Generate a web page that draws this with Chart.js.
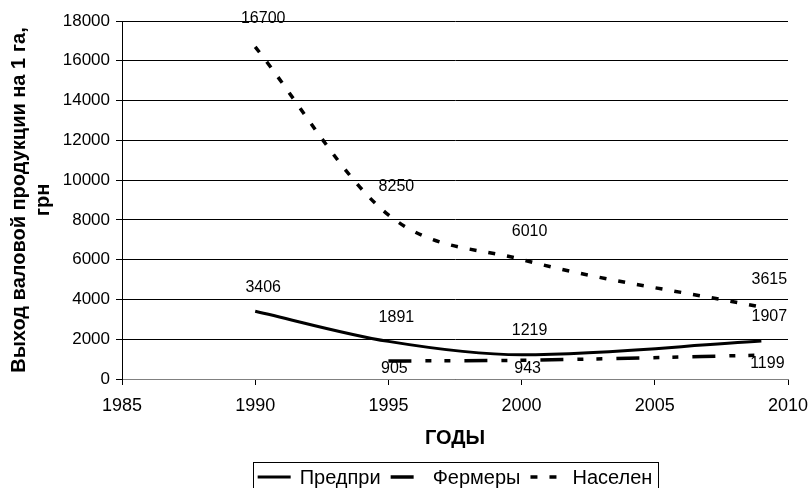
<!DOCTYPE html>
<html>
<head>
<meta charset="utf-8">
<script src="https://cdn.jsdelivr.net/npm/chart.js@4.4.1/dist/chart.umd.min.js"></script>
<style>
  html, body { margin: 0; padding: 0; background: #fff; }
  #wrap { width: 809px; height: 488px; }
</style>
</head>
<body>
<div id="wrap"><canvas id="c" width="809" height="488" style="width:809px;height:488px"></canvas></div>
<script>
// ---- data ----
const seriesNames = ['Предпри', 'Фермеры', 'Населен'];
const predpriYears = [1990, 1995, 2000, 2009];
const predpriValues = [3406, 1891, 1219, 1907];
const fermerYears = [1995, 2000, 2009];
const fermerValues = [905, 943, 1199];
const naselYears = [1990, 1995, 2000, 2009];
const naselValues = [16700, 8250, 6010, 3615];
const xTickValues = [1985, 1990, 1995, 2000, 2005, 2010];
const yTickValues = [0, 2000, 4000, 6000, 8000, 10000, 12000, 14000, 16000, 18000];
const xTitle = 'ГОДЫ';
const yTitle = ['Выход валовой продукции на 1 га,', 'грн'];

const FONT = '"Liberation Sans", Arial, sans-serif';
const pairs = (xs, ys) => xs.map((x, i) => ({ x: x, y: ys[i] }));

const labelPlugin = {
  id: 'pointLabels',
  afterDatasetsDraw(chart) {
    const ctx = chart.ctx;
    ctx.save();
    ctx.font = '16px ' + FONT;
    ctx.fillStyle = '#000';
    ctx.textAlign = 'center';
    ctx.textBaseline = 'middle';
    chart.data.datasets.forEach((ds, di) => {
      const meta = chart.getDatasetMeta(di);
      const off = ds.labelOffset || { dx: 0, dy: -20 };
      meta.data.forEach((pt, i) => {
        ctx.fillText(String(ds.data[i].y), pt.x + off.dx, pt.y + off.dy);
      });
    });
    ctx.restore();
  }
};

const boxLegend = {
  id: 'boxLegend',
  afterDraw(chart, args, opts) {
    const ctx = chart.ctx;
    ctx.save();
    ctx.font = opts.fontSize + 'px ' + FONT;
    const items = chart.data.datasets.map(ds => ({ ds: ds, w: ctx.measureText(ds.label).width }));
    const total = opts.padding * 2 + items.reduce((s, it) => s + opts.sampleWidth + opts.sampleGap + it.w, 0) + opts.itemGap * (items.length - 1);
    const cx = (chart.chartArea.left + chart.chartArea.right) / 2;
    let x = cx - total / 2;
    const top = opts.top, h = opts.height, cy = opts.textY;
    ctx.strokeStyle = '#000';
    ctx.lineWidth = 1;
    ctx.strokeRect(Math.round(x) + 0.5, top + 0.5, Math.round(total), h);
    x += opts.padding;
    items.forEach(it => {
      ctx.save();
      ctx.strokeStyle = it.ds.borderColor;
      ctx.lineWidth = it.ds.borderWidth;
      ctx.setLineDash(it.ds.borderDash || []);
      ctx.beginPath();
      ctx.moveTo(x, opts.lineY);
      ctx.lineTo(x + opts.sampleWidth, opts.lineY);
      ctx.stroke();
      ctx.restore();
      x += opts.sampleWidth + opts.sampleGap;
      ctx.fillStyle = '#000';
      ctx.textAlign = 'left';
      ctx.textBaseline = 'middle';
      ctx.fillText(it.ds.label, x, cy);
      x += it.w + opts.itemGap;
    });
    ctx.restore();
  }
};

new Chart(document.getElementById('c'), {
  type: 'line',
  data: {
    datasets: [
      {
        label: seriesNames[0],
        data: pairs(predpriYears, predpriValues),
        borderColor: '#000', borderWidth: 3, borderDash: [],
        pointRadius: 0, cubicInterpolationMode: 'monotone', fill: false,
        labelOffset: { dx: 8, dy: -24 }
      },
      {
        label: seriesNames[1],
        data: pairs(fermerYears, fermerValues),
        borderColor: '#000', borderWidth: 3.5, borderDash: [23, 14, 6, 13, 6, 14],
        pointRadius: 0, cubicInterpolationMode: 'monotone', fill: false,
        labelOffset: { dx: 6, dy: 8 }
      },
      {
        label: seriesNames[2],
        data: pairs(naselYears, naselValues),
        borderColor: '#000', borderWidth: 3.5, borderDash: [7, 12],
        pointRadius: 0, cubicInterpolationMode: 'monotone', fill: false,
        labelOffset: { dx: 8, dy: -28 }
      }
    ]
  },
  options: {
    responsive: false,
    animation: false,
    devicePixelRatio: 1,
    layout: { padding: { top: 21, right: 21, bottom: 0, left: 0 } },
    plugins: {
      legend: { display: false },
      tooltip: { enabled: false },
      boxLegend: {
        fontSize: 20, padding: 5, sampleWidth: 33, sampleGap: 9, itemGap: 10,
        top: 462, height: 30, textY: 478, lineY: 477
      }
    },
    scales: {
      x: {
        type: 'linear',
        min: xTickValues[0], max: xTickValues[xTickValues.length - 1],
        afterBuildTicks: s => { s.ticks = xTickValues.map(v => ({ value: v })); },
        afterFit: s => { s.height = 109; s.paddingLeft = 0; s.paddingRight = 0; },
        grid: { drawOnChartArea: false, drawTicks: true, tickLength: 6, color: '#000', lineWidth: 1 },
        border: { color: '#808080', width: 1 },
        ticks: { color: '#000', font: { family: FONT, size: 18 }, padding: 10, maxRotation: 0, autoSkip: false, callback: v => String(v) },
        title: {
          display: true, text: xTitle, color: '#000',
          font: { family: FONT, size: 20, weight: 'bold', lineHeight: 1.2 },
          padding: { top: 0, bottom: 38 }
        }
      },
      y: {
        min: yTickValues[0], max: yTickValues[yTickValues.length - 1],
        afterBuildTicks: s => { s.ticks = yTickValues.map(v => ({ value: v })); },
        afterFit: s => { s.width = 122; s.paddingTop = 0; s.paddingBottom = 0; },
        grid: { drawOnChartArea: true, drawTicks: true, tickLength: 6, color: '#000', lineWidth: 1 },
        border: { color: '#000', width: 1 },
        ticks: { color: '#000', font: { family: FONT, size: 17 }, padding: 6, autoSkip: false, callback: v => String(v) },
        title: {
          display: true, text: yTitle, color: '#000',
          font: { family: FONT, size: 20, weight: 'bold', lineHeight: 1.2 },
          padding: { top: 7, bottom: 0 }
        }
      }
    }
  },
  plugins: [labelPlugin, boxLegend]
});
</script>
</body>
</html>
